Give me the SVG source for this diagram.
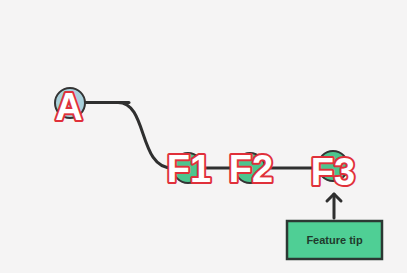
<svg xmlns="http://www.w3.org/2000/svg" width="407" height="273" viewBox="0 0 407 273">
<defs>
<style>
.edge{fill:none;stroke:#2f2f2f;stroke-width:3;stroke-linecap:round;stroke-linejoin:round}
.nodeA{fill:#a9d0db;stroke:#333;stroke-width:2}
.nodeF{fill:#4cc58e;stroke:#333;stroke-width:2}
.lbl{font-family:"Liberation Sans",Arial,sans-serif;font-weight:bold;font-size:38px;fill:#ffffff;stroke:#e0303a;stroke-width:4;paint-order:stroke;stroke-linejoin:round;text-anchor:middle}
.tip{fill:#4fcf95;stroke:#2c3833;stroke-width:2.5}
.tiptxt{font-family:"Liberation Sans",Arial,sans-serif;font-weight:bold;font-size:11px;fill:#1f3a2c;text-anchor:middle}
</style>
</defs>
<rect width="407" height="273" fill="#f5f4f4"/>
<g id="connectors">
<path class="edge" d="M84 102.5 L129 102.5"/>
<path class="edge" d="M118 102.5 C148 102.5 138 168 172 168 L326 168"/>
<path class="edge" d="M334 218 L334 194"/>
<path class="edge" d="M327 201 L334 194 L341 201"/>
</g>
<g id="node-A">
<circle class="nodeA" cx="70" cy="103" r="15"/>
<text class="lbl" x="69" y="120">A</text>
</g>
<g id="node-F1">
<circle class="nodeF" cx="188" cy="168" r="15"/>
<text class="lbl" x="189" y="182">F1</text>
</g>
<g id="node-F2">
<circle class="nodeF" cx="250" cy="168" r="15"/>
<text class="lbl" x="251" y="182">F2</text>
</g>
<g id="node-F3">
<circle class="nodeF" cx="333" cy="166" r="15"/>
<text class="lbl" x="333" y="185">F3</text>
</g>
<g id="node-tip">
<rect class="tip" x="287" y="221" width="95" height="38"/>
<text class="tiptxt" x="334.5" y="244">Feature tip</text>
</g>
</svg>
